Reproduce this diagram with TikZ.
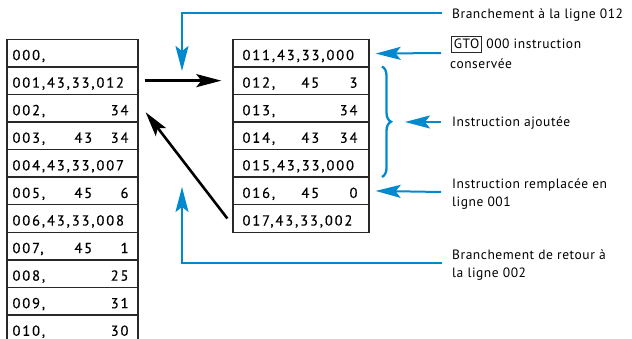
\documentclass[tikz,border=0pt]{standalone}
\usepackage{fontspec}
\setmainfont{PT Sans}
\usetikzlibrary{arrows.meta,decorations.pathreplacing}
\definecolor{lblue}{RGB}{0,137,207}
\definecolor{tabline}{RGB}{40,40,40}
\begin{document}
\begin{tikzpicture}[x=1pt,y=-1pt,
  rowL/.style={draw=tabline, line width=1.3pt, minimum width=131pt, minimum height=27.57pt, inner sep=0pt},
  rowR/.style={draw=tabline, line width=1.3pt, minimum width=136pt, minimum height=27.57pt, inner sep=0pt},
  tx/.style={inner sep=0pt, font=\fontsize{14.5}{16}\selectfont\addfontfeature{LetterSpace=13,FakeBold=0.4}},
  ann/.style={inner sep=0pt, anchor=base west, font=\fontsize{13.5}{16}\selectfont\addfontfeature{LetterSpace=4}},
  bluearrow/.style={draw=lblue, line width=2pt, -{Stealth[length=25pt,width=13pt,inset=5pt]}},
  blackarrow/.style={draw=black, line width=2.6pt, -{Stealth[length=25pt,width=13pt,inset=5pt]}},
  blueline/.style={draw=lblue, line width=2.3pt}
]
\useasboundingbox (0,0) rectangle (632,339);

% left table
\foreach \i/\a/\b/\c in {0/{000,}/{}/{}, 1/{001,43,33,012}/{}/{}, 2/{002,}/{}/34, 3/{003,}/43/34, 4/{004,43,33,007}/{}/{}, 5/{005,}/45/6, 6/{006,43,33,008}/{}/{}, 7/{007,}/45/1, 8/{008,}/{}/25, 9/{009,}/{}/31, 10/{010,}/{}/30}{
  \node[rowL] (L\i) at (72.5,{39.3+27.57*(\i+0.5)}) {};
  \node[tx, anchor=base west] (La\i) at ([xshift=6pt,yshift=-7pt]L\i.west) {\a};
  \node[tx, anchor=base east] (Lb\i) at ([xshift=86pt,yshift=-7pt]L\i.west) {\b};
  \node[tx, anchor=base east] (Lc\i) at ([xshift=-10pt,yshift=-7pt]L\i.east) {\c};
}
% right table
\foreach \i/\a/\b/\c in {0/{011,43,33,000}/{}/{}, 1/{012,}/45/3, 2/{013,}/{}/34, 3/{014,}/43/34, 4/{015,43,33,000}/{}/{}, 5/{016,}/45/0, 6/{017,43,33,002}/{}/{}}{
  \node[rowR] (R\i) at (301,{39.3+27.57*(\i+0.5)}) {};
  \node[tx, anchor=base west] (Ra\i) at ([xshift=10pt,yshift=-7pt]R\i.west) {\a};
  \node[tx, anchor=base east] (Rb\i) at ([xshift=87pt,yshift=-7pt]R\i.west) {\b};
  \node[tx, anchor=base east] (Rc\i) at ([xshift=-12pt,yshift=-7pt]R\i.east) {\c};
}

% black arrows
\draw[blackarrow] ([xshift=6pt]L1.east) -- ([xshift=-11pt]R1.west);
\draw[blackarrow] ([xshift=-5pt]R6.west) -- ([xshift=7pt,yshift=-4pt]L2.east);

% annotations
\node[ann] (t1) at (452,19) {Branchement à la ligne 012};
\node[ann, draw=tabline, line width=0.8pt, inner xsep=2.5pt, inner ysep=3pt, text depth=0pt] (gto) at (451,49) {GTO};
\node[ann] (t2a) at ([xshift=4pt]gto.base east) {000 instruction};
\node[ann] (t2b) at (450,69) {conservée};
\node[ann] (t3) at (452,127) {Instruction ajoutée};
\node[ann] (t4a) at (452,189) {Instruction remplacée en};
\node[ann] (t4b) at (452,207) {ligne 001};
\node[ann] (t5a) at (452,259) {Branchement de retour à};
\node[ann] (t5b) at (452,277) {la ligne 002};

% blue connectors
\coordinate (topR) at (442,13);
\coordinate (topL) at (182,13);
\coordinate (topTip) at (182,71);
\draw[bluearrow] (topR) -- (topL) -- (topTip);
\coordinate (botR) at (442,263);
\coordinate (botL) at (182,263);
\coordinate (botTip) at (182,187);
\draw[bluearrow] (botR) -- (botL) -- (botTip);

\coordinate (gtoStart) at (441,53);
\draw[bluearrow] (gtoStart) -- ([xshift=6pt,yshift=-0.5pt]R0.east);
\coordinate (repStart) at (441,192);
\draw[bluearrow] (repStart) -- ([xshift=6pt]R5.east);

\draw[blueline, decorate, decoration={brace, amplitude=9pt}] (382,66.5) -- (382,177);
\coordinate (braceTip) at (405,122);
\coordinate (addStart) at (441,122);
\draw[bluearrow] (addStart) -- (braceTip);
\end{tikzpicture}
\end{document}
